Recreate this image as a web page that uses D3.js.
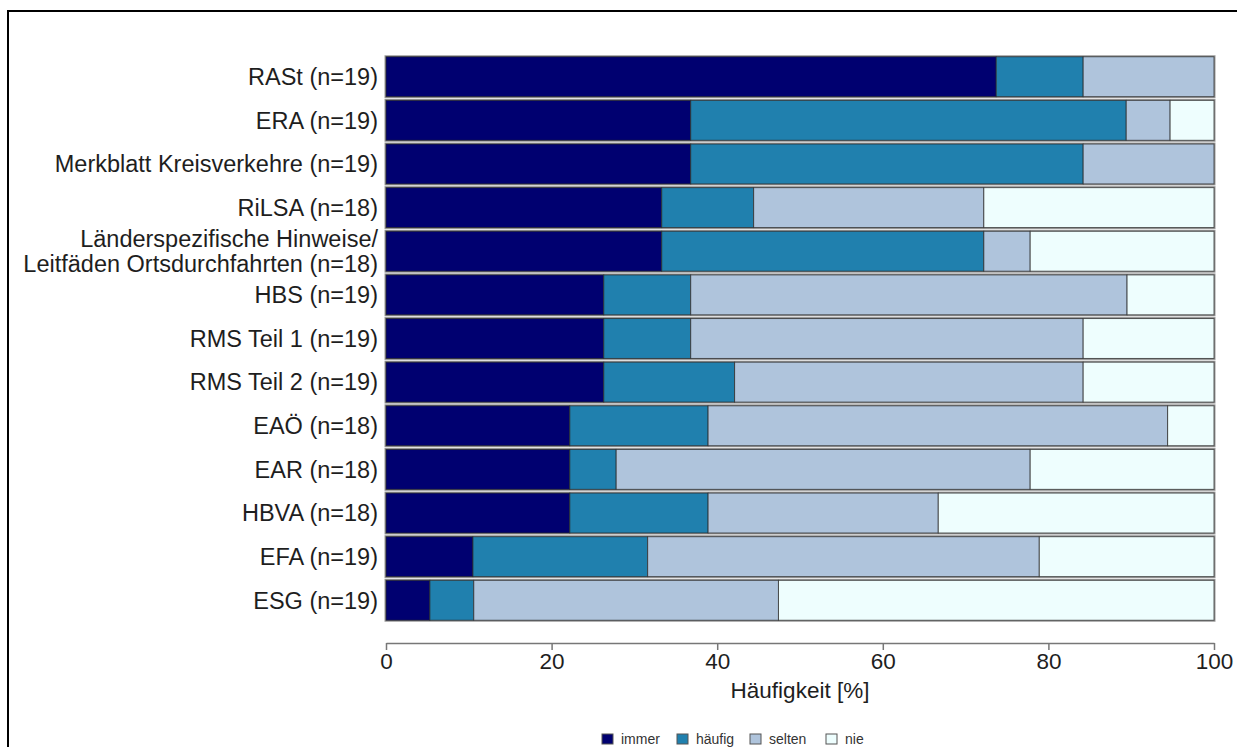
<!DOCTYPE html>
<html>
<head>
<meta charset="utf-8">
<script src="https://cdn.jsdelivr.net/npm/d3@7"></script>
<style>
  html, body { margin: 0; padding: 0; background: #ffffff; }
  svg { display: block; }
  text { font-family: "Liberation Sans", Arial, sans-serif; }
</style>
</head>
<body>
<svg id="chart" width="1237" height="747"></svg>
<script>
// ---- data ----
const categories = [
  "RASt (n=19)",
  "ERA (n=19)",
  "Merkblatt Kreisverkehre (n=19)",
  "RiLSA (n=18)",
  "Länderspezifische Hinweise/\nLeitfäden Ortsdurchfahrten (n=18)",
  "HBS (n=19)",
  "RMS Teil 1 (n=19)",
  "RMS Teil 2 (n=19)",
  "EAÖ (n=18)",
  "EAR (n=18)",
  "HBVA (n=18)",
  "EFA (n=19)",
  "ESG (n=19)"
];
const seriesNames = ["immer", "häufig", "selten", "nie"];
const immer  = [73.7, 36.8, 36.8, 33.3, 33.3, 26.3, 26.3, 26.3, 22.2, 22.2, 22.2, 10.5, 5.3];
const haeufig = [10.5, 52.6, 47.4, 11.1, 38.9, 10.5, 10.5, 15.8, 16.7, 5.6, 16.7, 21.1, 5.3];
const selten = [15.8, 5.3, 15.8, 27.8, 5.6, 52.7, 47.4, 42.1, 55.5, 50.0, 27.8, 47.3, 36.8];
const nie    = [0.0, 5.3, 0.0, 27.8, 22.2, 10.5, 15.8, 15.8, 5.6, 22.2, 33.3, 21.1, 52.6];
const xTicks = [0, 20, 40, 60, 80, 100];
const xTitle = "Häufigkeit [%]";
const colors = ["#000070", "#2080ae", "#afc4dc", "#eefefe"];

// ---- build table ----
const rows = categories.map((c, i) => ({
  cat: c, immer: immer[i], "häufig": haeufig[i], selten: selten[i], nie: nie[i]
}));
const stack = d3.stack().keys(seriesNames)(rows);

const svg = d3.select("#chart");

// outer frame
svg.append("rect")
  .attr("x", 8).attr("y", 11).attr("width", 1240).attr("height", 760)
  .attr("fill", "none").attr("stroke", "#000").attr("stroke-width", 2);

const x = d3.scaleLinear().domain([0, 100]).range([386, 1214]);
const y = d3.scaleBand().domain(categories).range([55, 622]).paddingInner(0.085).paddingOuter(0.04);
const color = d3.scaleOrdinal().domain(seriesNames).range(colors);

// bar outlines (soft gray)
svg.append("g").selectAll("rect").data(categories).join("rect")
  .attr("x", x(0)).attr("y", d => y(d))
  .attr("width", x(100) - x(0)).attr("height", y.bandwidth())
  .attr("fill", "none").attr("stroke", "#9a9a9a").attr("stroke-width", 3);

// segments
svg.append("g").selectAll("g").data(stack).join("g")
  .attr("fill", d => color(d.key))
  .selectAll("rect").data(d => d.filter(s => s[1] - s[0] > 0)).join("rect")
  .attr("x", d => x(d[0]))
  .attr("y", d => y(d.data.cat))
  .attr("width", d => x(d[1]) - x(d[0]))
  .attr("height", y.bandwidth())
  .attr("stroke", "rgba(40,40,40,0.75)")
  .attr("stroke-width", 1);

// y labels
const yl = svg.append("g");
categories.forEach(c => {
  const lines = c.split("\n");
  const cy = y(c) + y.bandwidth() / 2;
  const lh = 25;
  const t = yl.append("text")
    .attr("x", 378).attr("text-anchor", "end")
    .attr("font-size", 23.5).attr("fill", "#1e1e1e");
  lines.forEach((ln, k) => {
    t.append("tspan").attr("x", 378)
      .attr("y", cy + (k - (lines.length - 1) / 2) * lh)
      .attr("dy", "0.35em").text(ln);
  });
});

// x axis
const ax = svg.append("g").attr("transform", "translate(0,643)")
  .call(d3.axisBottom(x).tickValues(xTicks).tickSize(7).tickSizeOuter(0).tickPadding(3));
ax.select(".domain").attr("stroke", "#777").attr("stroke-width", 1.5);
ax.selectAll(".tick line").attr("stroke", "#777").attr("stroke-width", 1.5);
ax.selectAll(".tick text").attr("font-size", 22.5).attr("fill", "#1e1e1e")
  .attr("font-family", "'Liberation Sans', Arial, sans-serif");

svg.append("text").attr("x", x(50)).attr("y", 698).attr("text-anchor", "middle")
  .attr("font-size", 22.5).attr("fill", "#1e1e1e").text(xTitle);

// legend
const legX = [602, 677, 750, 826];
const leg = svg.append("g");
seriesNames.forEach((s, i) => {
  leg.append("rect").attr("x", legX[i]).attr("y", 734).attr("width", 11).attr("height", 10)
    .attr("fill", colors[i]).attr("stroke", "#555").attr("stroke-width", 1);
  leg.append("text").attr("x", legX[i] + 19).attr("y", 744)
    .attr("font-size", 14).attr("fill", "#333").text(s);
});
</script>
</body>
</html>
